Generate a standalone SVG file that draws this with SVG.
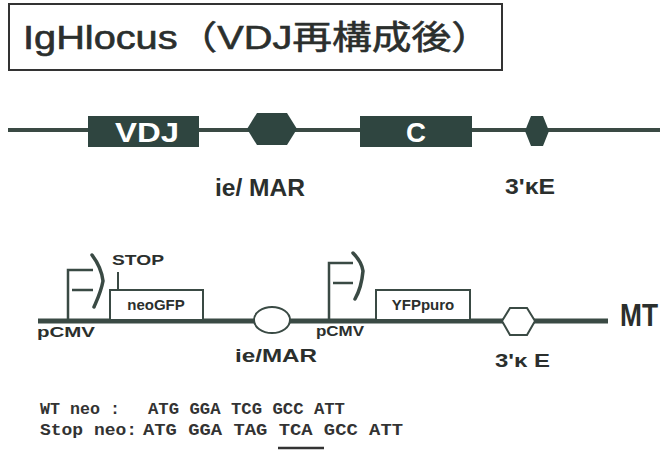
<svg xmlns="http://www.w3.org/2000/svg" width="668" height="454" viewBox="0 0 668 454">
<style>
.lbl{font-family:"Liberation Sans",Arial,sans-serif;fill:#2b2f2d}
.b{font-weight:bold}
.blk{fill:#2f4540}
.wtxt{font-family:"Liberation Sans",Arial,sans-serif;font-weight:bold;fill:#ffffff}
.ol{fill:#ffffff;stroke:#3a4a44;stroke-width:2}
.prom{fill:none;stroke:#3a4a44;stroke-width:2.5;stroke-linejoin:miter}
.head{fill:none;stroke:#3a4a44;stroke-width:3.5;stroke-linecap:round}
.seq{font-family:"Liberation Mono","Courier New",monospace;font-weight:bold;fill:#333;font-size:16px}
</style>
<rect width="668" height="454" fill="#ffffff"/>
<g id="title">
<rect x="9" y="4" width="493" height="66" fill="#ffffff" stroke="#333" stroke-width="2"/>
<text x="23" y="49" class="lbl" font-size="33" stroke="#2b2f2d" stroke-width="0.6" textLength="468" lengthAdjust="spacingAndGlyphs" style="font-family:'Liberation Sans','Noto Sans CJK JP',sans-serif">IgHlocus（VDJ再構成後）</text>
</g>
<g id="connectors">
<line x1="8" y1="130" x2="660" y2="130" stroke="#3a4a44" stroke-width="4"/>
<line x1="38" y1="321" x2="608" y2="321" stroke="#3a4a44" stroke-width="5"/>
<path class="prom" d="M68,321 V270 H93 M72,290 H93"/>
<path class="head" d="M92,255 C98,263 102,272 103,281 C101,292 97,300 94,307"/>
<path class="prom" d="M329,321 V263 H353 M333,283 H353"/>
<path class="head" d="M353,253 C358,258 362,264 363,271 C362,282 359,292 355,299"/>
<line x1="118" y1="272" x2="118" y2="290" stroke="#3a4a44" stroke-width="2"/>
</g>
<g id="VDJ">
<rect class="blk" x="88" y="116" width="111" height="31"/>
<text class="wtxt" x="115" y="142" font-size="28" textLength="64" lengthAdjust="spacingAndGlyphs">VDJ</text>
</g>
<g id="ieMAR-top">
<polygon class="blk" points="247,129 257,113 287,113 297,129 287,145 257,145"/>
<text class="lbl b" x="215" y="196" font-size="23" textLength="90" lengthAdjust="spacingAndGlyphs">ie/ MAR</text>
</g>
<g id="C">
<rect class="blk" x="360" y="116" width="112" height="31"/>
<text class="wtxt" x="406" y="142" font-size="28" textLength="20" lengthAdjust="spacingAndGlyphs">C</text>
</g>
<g id="kE-top">
<polygon class="blk" points="525,131 531,116 543,116 549,131 543,146 531,146"/>
<text class="lbl b" x="505" y="194" font-size="22" textLength="50" lengthAdjust="spacingAndGlyphs">3'κE</text>
</g>
<g id="pCMV1">
<text class="lbl b" x="37" y="337" font-size="15" textLength="58" lengthAdjust="spacingAndGlyphs">pCMV</text>
</g>
<g id="neoGFP">
<rect class="ol" x="110" y="290" width="93" height="30"/>
<text class="lbl b" x="156" y="310" font-size="15" text-anchor="middle">neoGFP</text>
<text class="lbl b" x="112" y="265" font-size="15" textLength="52" lengthAdjust="spacingAndGlyphs">STOP</text>
</g>
<g id="ieMAR-bottom">
<ellipse class="ol" cx="272" cy="320" rx="18" ry="13"/>
<text class="lbl b" x="235" y="362" font-size="19" textLength="82" lengthAdjust="spacingAndGlyphs">ie/MAR</text>
</g>
<g id="pCMV2">
<text class="lbl b" x="316" y="336" font-size="15" textLength="48" lengthAdjust="spacingAndGlyphs">pCMV</text>
</g>
<g id="YFPpuro">
<rect class="ol" x="376" y="290" width="94" height="30"/>
<text class="lbl b" x="423" y="310" font-size="15" text-anchor="middle">YFPpuro</text>
</g>
<g id="kE-bottom">
<polygon class="ol" points="502,321 510,308 527,308 535,321 527,335 510,335"/>
<text class="lbl b" x="495" y="367" font-size="18" textLength="55" lengthAdjust="spacingAndGlyphs">3'κ E</text>
</g>
<g id="MT">
<text class="lbl b" x="620" y="326" font-size="32" textLength="38" lengthAdjust="spacingAndGlyphs">MT</text>
</g>
<g id="sequences">
<text class="seq" x="40" y="414" textLength="80" lengthAdjust="spacingAndGlyphs">WT neo :</text>
<text class="seq" x="148" y="414" textLength="197" lengthAdjust="spacingAndGlyphs">ATG GGA TCG GCC ATT</text>
<text class="seq" x="40" y="435" textLength="97" lengthAdjust="spacingAndGlyphs">Stop neo:</text>
<text class="seq" x="143" y="435" textLength="260" lengthAdjust="spacingAndGlyphs">ATG GGA TAG TCA GCC ATT</text>
<line x1="278" y1="448" x2="324" y2="448" stroke="#333" stroke-width="2.5"/>
</g>
</svg>
